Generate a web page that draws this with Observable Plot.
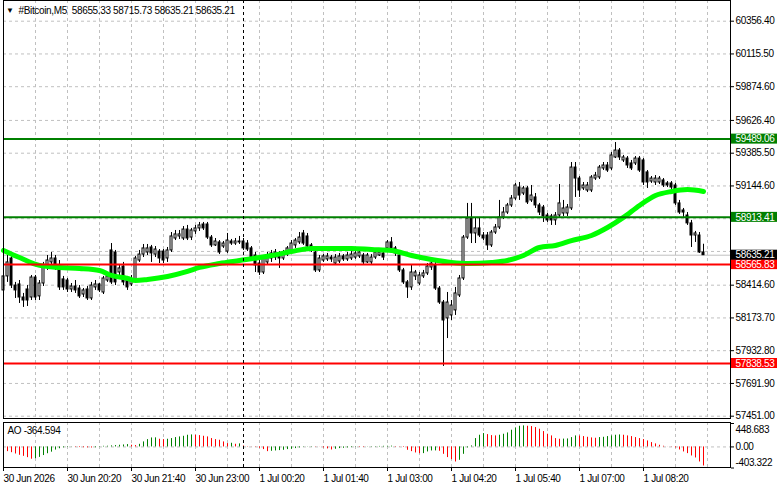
<!DOCTYPE html>
<html><head><meta charset="utf-8">
<script src="https://cdn.jsdelivr.net/npm/d3@7"></script>
<script src="https://cdn.jsdelivr.net/npm/@observablehq/plot@0.6"></script>
<style>
html,body{margin:0;padding:0;background:#fff;}
#chart{position:relative;width:781px;height:489px;overflow:hidden;background:#fff;}
#chart svg{position:absolute;left:0;background:transparent !important;}
#chart svg text{letter-spacing:-0.35px;}
</style></head><body><div id="chart"></div>
<script>
const symbol = "#Bitcoin,M5";
const lastOHLC = [58655.33, 58715.73, 58635.21, 58635.21];

const open = [58376,58479,58611,58412,58420,58324,58383,58324,58471,58332,
58427,58552,58582,58611,58538,58457,58449,58383,58405,58390,
58346,58383,58317,58398,58420,58361,58449,58670,58655,58508,
58552,58449,58420,58449,58596,58640,58655,58692,58640,58662,
58662,58611,58670,58758,58773,58758,58824,58765,58810,58832,
58861,58861,58765,58707,58729,58699,58662,58736,58721,58729,
58736,58721,58685,58633,58574,58508,58582,58611,58618,58648,
58611,58640,58655,58707,58729,58795,58773,58707,58655,58523,
58596,58604,58618,58574,58589,58626,58604,58611,58618,58626,
58633,58582,58582,58618,58633,58648,58685,58729,58685,58633,
58523,58435,58398,58479,58427,58479,58501,58545,58560,58390,
58287,58170,58192,58229,58339,58464,58765,58905,58795,58832,
58780,58780,58707,58802,58839,58913,58949,59001,59052,59133,
59089,59126,59038,59060,59001,58986,58927,58920,58891,58927,
58942,58942,58979,59280,59199,59126,59111,59111,59199,59207,
59273,59295,59273,59354,59405,59332,59346,59310,59310,59346,
59332,59244,59177,59170,59170,59185,59163,59163,59148,59016,
58964,58927,58869,58780,58780,58655.33];
const high = [58508,58633,58648,58435,58449,58354,58412,58486,58486,58449,
58582,58633,58655,58633,58596,58479,58464,58427,58449,58412,
58390,58405,58435,58449,58427,58479,58501,58721,58670,58560,
58582,58479,58486,58626,58670,58714,58714,58707,58699,58677,
58677,58692,58802,58817,58817,58846,58854,58832,58854,58876,
58876,58876,58780,58758,58743,58736,58795,58751,58758,58773,
58758,58743,58699,58655,58596,58633,58655,58670,58677,58662,
58670,58699,58743,58758,58802,58817,58795,58721,58670,58633,
58640,58648,58633,58640,58648,58640,58655,58662,58662,58677,
58648,58648,58640,58670,58677,58670,58743,58765,58699,58648,
58538,58449,58560,58523,58508,58523,58574,58611,58582,58405,
58302,58361,58302,58398,58486,58780,59016,59016,58905,58905,
58802,58802,58817,58861,59038,58986,59016,59074,59163,59170,
59141,59141,59148,59089,59016,59001,58942,58935,58949,59155,
59038,59008,59317,59317,59214,59170,59170,59221,59244,59295,
59317,59317,59391,59464,59420,59369,59361,59332,59361,59361,
59346,59258,59214,59221,59214,59199,59177,59177,59163,59038,
58979,58949,58891,58810,58802,58715.73];
const low = [58302,58435,58390,58317,58280,58251,58258,58302,58302,58302,
58405,58523,58552,58523,58376,58376,58361,58361,58354,58317,
58324,58302,58302,58376,58361,58346,58435,58420,58412,58486,
58412,58376,58405,58435,58582,58618,58633,58582,58618,58574,
58574,58582,58655,58743,58751,58743,58743,58743,58788,58810,
58817,58751,58692,58699,58640,58685,58648,58707,58707,58714,
58670,58662,58596,58508,58486,58493,58560,58582,58596,58538,
58596,58626,58640,58685,58714,58707,58685,58655,58508,58508,
58582,58589,58582,58567,58574,58589,58589,58596,58604,58611,
58567,58574,58567,58604,58626,58596,58662,58670,58626,58508,
58420,58317,58376,58449,58412,58464,58486,58523,58376,58273,
57817,58022,58155,58192,58324,58449,58751,58721,58721,58765,
58743,58670,58692,58788,58824,58898,58935,58986,59038,59038,
59074,59008,59023,58979,58927,58876,58876,58854,58854,58913,
58920,58920,58964,59060,59060,59111,59096,59096,59185,59192,
59258,59244,59258,59346,59332,59317,59273,59258,59295,59244,
59148,59126,59163,59148,59155,59133,59133,59111,59001,58935,
58913,58854,58692,58729,58648,58635.21];
const close = [58479,58582,58412,58376,58324,58302,58302,58471,58324,58427,
58560,58596,58611,58538,58398,58398,58383,58405,58376,58332,
58376,58317,58412,58420,58376,58464,58479,58435,58435,58538,
58435,58398,58449,58611,58640,58685,58685,58648,58677,58611,
58596,58670,58773,58788,58788,58824,58758,58817,58832,58854,
58832,58765,58707,58736,58655,58721,58743,58721,58736,58736,
58685,58677,58611,58560,58508,58611,58626,58648,58655,58611,
58640,58685,58721,58743,58765,58721,58699,58670,58523,58611,
58626,58626,58604,58618,58626,58604,58633,58640,58648,58655,
58582,58633,58618,58655,58655,58618,58729,58685,58648,58523,
58435,58398,58508,58508,58486,58501,58552,58574,58390,58287,
58155,58287,58265,58354,58464,58765,58905,58795,58832,58780,
58758,58707,58802,58839,58913,58949,59001,59052,59148,59074,
59126,59023,59074,59001,58949,58920,58891,58891,58927,59016,
58979,58986,59280,59199,59111,59148,59148,59207,59221,59280,
59295,59258,59369,59405,59354,59354,59295,59273,59346,59258,
59170,59170,59199,59199,59199,59148,59148,59133,59016,58949,
58949,58869,58780,58795,58655,58635.21];

const maIndex = [0,4,9,14,19,24,27,31,33,36,41,46,49,54,59,64,67,72,77,82,87,92,97,102,107,112,116,122,126,130,134,138,142,147,151,155,159,163,167,171,175];
const maValue = [58670,58618,58560,58545,58538,58523,58486,58464,58449,58457,58479,58516,58545,58574,58596,58618,58633,58662,58685,58685,58685,58677,58670,58633,58604,58582,58574,58582,58596,58633,58692,58707,58743,58780,58839,58913,59001,59074,59104,59118,59104];

const aoValues = [-80,-90,-110,-135,-160,-180,-205,-235,-225,-200,
-165,-130,-100,-60,-35,-18,-8,-3,-8,-12,
-15,-18,-20,-16,6,12,14,20,26,32,
38,45,32,26,50,96,140,172,174,147,
140,147,160,179,192,204,224,230,224,217,
204,192,160,140,128,96,64,70,51,58,
19,6,-2,-6,-25,-51,-90,-83,-77,-70,
-64,-51,-45,-32,-19,-6,4,6,5,2,
-19,-38,-58,-45,-32,-26,-19,-13,-6,-8,
-9,4,6,7,10,12,13,15,8,-4,
-10,-64,-90,-115,-130,-128,-96,-77,-76,-83,
-141,-204,-243,-288,-256,-141,-19,19,160,224,
256,236,217,211,224,243,268,320,364,396,
403,396,390,371,339,294,243,211,160,147,
150,153,179,211,209,198,185,173,166,179,
185,198,211,224,230,224,211,198,179,160,
141,115,83,58,32,13,2,-4,-19,-58,
-96,-128,-173,-211,-288,-364.594];

const timeTickIndex = [0,16,32,48,64,80,96,112,128,144,160];
const timeTickLabels = ["30 Jun 2026","30 Jun 20:20","30 Jun 21:40","30 Jun 23:00","1 Jul 00:20","1 Jul 01:40","1 Jul 03:00","1 Jul 04:20","1 Jul 05:40","1 Jul 07:00","1 Jul 08:20"];
const gridIndex = [0,8,16,24,32,40,48,56,64,72,80,88,96,104,112,120,128,136,144,152,160,168,176];
const priceTicks = [60356.40,60115.50,59874.60,59626.40,59385.50,59144.60,58903.70,58662.80,58414.60,58173.70,57932.80,57691.90,57451.00];
const hiddenTicks = [58903.70, 58662.80];
const levelValues = [59489.06, 58913.41, 58565.83, 57838.53];
const levelColors = ["#008000", "#008000", "#ff0000", "#ff0000"];
const bidPrice = 58635.21;
const separatorIndex = [60];
const aoTicks = [448.683, 0, -403.322];
const aoTickLabels = ["448.683", "0.00", "-403.322"];

const FONT = "'Liberation Sans',Arial,sans-serif";
const FS = "10px";
const candles = open.map((o, i) => ({i, o, h: high[i], l: low[i], c: close[i]}));
const ma = maIndex.map((i, k) => ({i, v: maValue[k]}));
const aoData = aoValues.map((v, i) => ({i, v, up: i === 0 ? true : v > aoValues[i - 1]}));
const labels = levelValues.map((v, k) => ({value: v, color: levelColors[k]})).concat([{value: bidPrice, color: "#000000"}]);
const gridStyle = {stroke: "#c0c0c0", strokeDasharray: "3,3"};

const main = Plot.plot({
  width: 781, height: 420,
  marginLeft: 3, marginRight: 51, marginTop: 0, marginBottom: 2,
  style: {fontFamily: FONT, fontSize: FS, color: "#000", background: "transparent"},
  x: {domain: [0, 181.75], axis: null},
  y: {domain: [57434, 60508.6], label: null},
  marks: [
    Plot.ruleY(priceTicks, gridStyle),
    Plot.ruleX(gridIndex, gridStyle),
    Plot.ruleY([bidPrice], {stroke: "#c0c0c0"}),
    Plot.ruleX(candles, {x: "i", y1: "l", y2: "h", stroke: "#000"}),
    Plot.rect(candles.filter(d => d.c < d.o), {x1: d => d.i - 0.5, x2: d => d.i + 0.5, y1: "o", y2: "c", insetLeft: 1, insetRight: 1, fill: "#000", stroke: "#000"}),
    Plot.rect(candles.filter(d => d.c >= d.o), {x1: d => d.i - 0.5, x2: d => d.i + 0.5, y1: "o", y2: "c", insetLeft: 1, insetRight: 1, fill: "#fff", stroke: "#000"}),
    Plot.line(ma, {x: "i", y: "v", stroke: "#00ff00", strokeWidth: 5, curve: "monotone-x"}),
    ...levelValues.map((v, k) => Plot.ruleY([v], {stroke: levelColors[k], strokeWidth: 2})),
    Plot.ruleX(separatorIndex, {stroke: "#000", strokeDasharray: "3,3"}),
    Plot.frame({stroke: "#000"}),
    Plot.axisY(priceTicks, {anchor: "right", tickSize: 3, tickPadding: 2, tickFormat: d => hiddenTicks.includes(d) ? "" : d.toFixed(2), fill: "#000", label: null}),
    ...labels.map(d => Plot.rect([d], {y1: "value", y2: "value", insetLeft: 728, insetRight: -47, insetTop: -5, insetBottom: -5, fill: d.color})),
    Plot.text(labels, {y: "value", text: d => d.value.toFixed(2), frameAnchor: "right", textAnchor: "start", dx: 5, fill: "#fff"}),
    Plot.text(["\u25BC"], {text: d => d, frameAnchor: "top-left", textAnchor: "start", lineAnchor: "middle", dx: 2.5, dy: 10, fontSize: 8, fill: "#000"}),
    Plot.text([symbol + "\u00a0\u00a0" + lastOHLC.map(v => v.toFixed(2)).join(" ")], {text: d => d, frameAnchor: "top-left", textAnchor: "start", lineAnchor: "middle", dx: 15, dy: 10, fill: "#000"})
  ]
});

const ao = Plot.plot({
  width: 781, height: 68,
  marginLeft: 3, marginRight: 51, marginTop: 1, marginBottom: 22,
  style: {fontFamily: FONT, fontSize: FS, color: "#000", background: "transparent"},
  x: {domain: [0, 181.75], axis: null},
  y: {domain: [-403.322, 448.683], range: [46.5, 2], label: null},
  marks: [
    Plot.ruleY([0], gridStyle),
    Plot.ruleX(gridIndex, gridStyle),
    Plot.ruleX(aoData.filter(d => d.up), {x: "i", y1: 0, y2: "v", stroke: "#008000"}),
    Plot.ruleX(aoData.filter(d => !d.up), {x: "i", y1: 0, y2: "v", stroke: "#ff0000"}),
    Plot.ruleX(separatorIndex, {stroke: "#000", strokeDasharray: "3,3"}),
    Plot.frame({stroke: "#000"}),
    Plot.axisX(timeTickIndex, {anchor: "bottom", tickSize: 4, tickPadding: 3, textAnchor: "start", tickFormat: d => timeTickLabels[timeTickIndex.indexOf(d)], fill: "#000", label: null}),
    Plot.axisY(aoTicks, {anchor: "right", tickSize: 3, tickFormat: () => "", label: null}),
    Plot.text([aoTicks[0]], {y: d => d, text: () => aoTickLabels[0], frameAnchor: "right", textAnchor: "start", dx: 5, dy: 6, fill: "#000"}),
    Plot.text([aoTicks[1]], {y: d => d, text: () => aoTickLabels[1], frameAnchor: "right", textAnchor: "start", dx: 5, dy: 0, fill: "#000"}),
    Plot.text([aoTicks[2]], {y: d => d, text: () => aoTickLabels[2], frameAnchor: "right", textAnchor: "start", dx: 5, dy: -5, fill: "#000"}),
    Plot.text(["AO " + aoValues[aoValues.length - 1]], {text: d => d, frameAnchor: "top-left", textAnchor: "start", lineAnchor: "middle", dx: 4, dy: 8.5, fill: "#000"})
  ]
});

const chart = document.getElementById("chart");
main.style.top = "0px";
ao.style.top = "421px";
chart.appendChild(main);
chart.appendChild(ao);
</script>
</body></html>
